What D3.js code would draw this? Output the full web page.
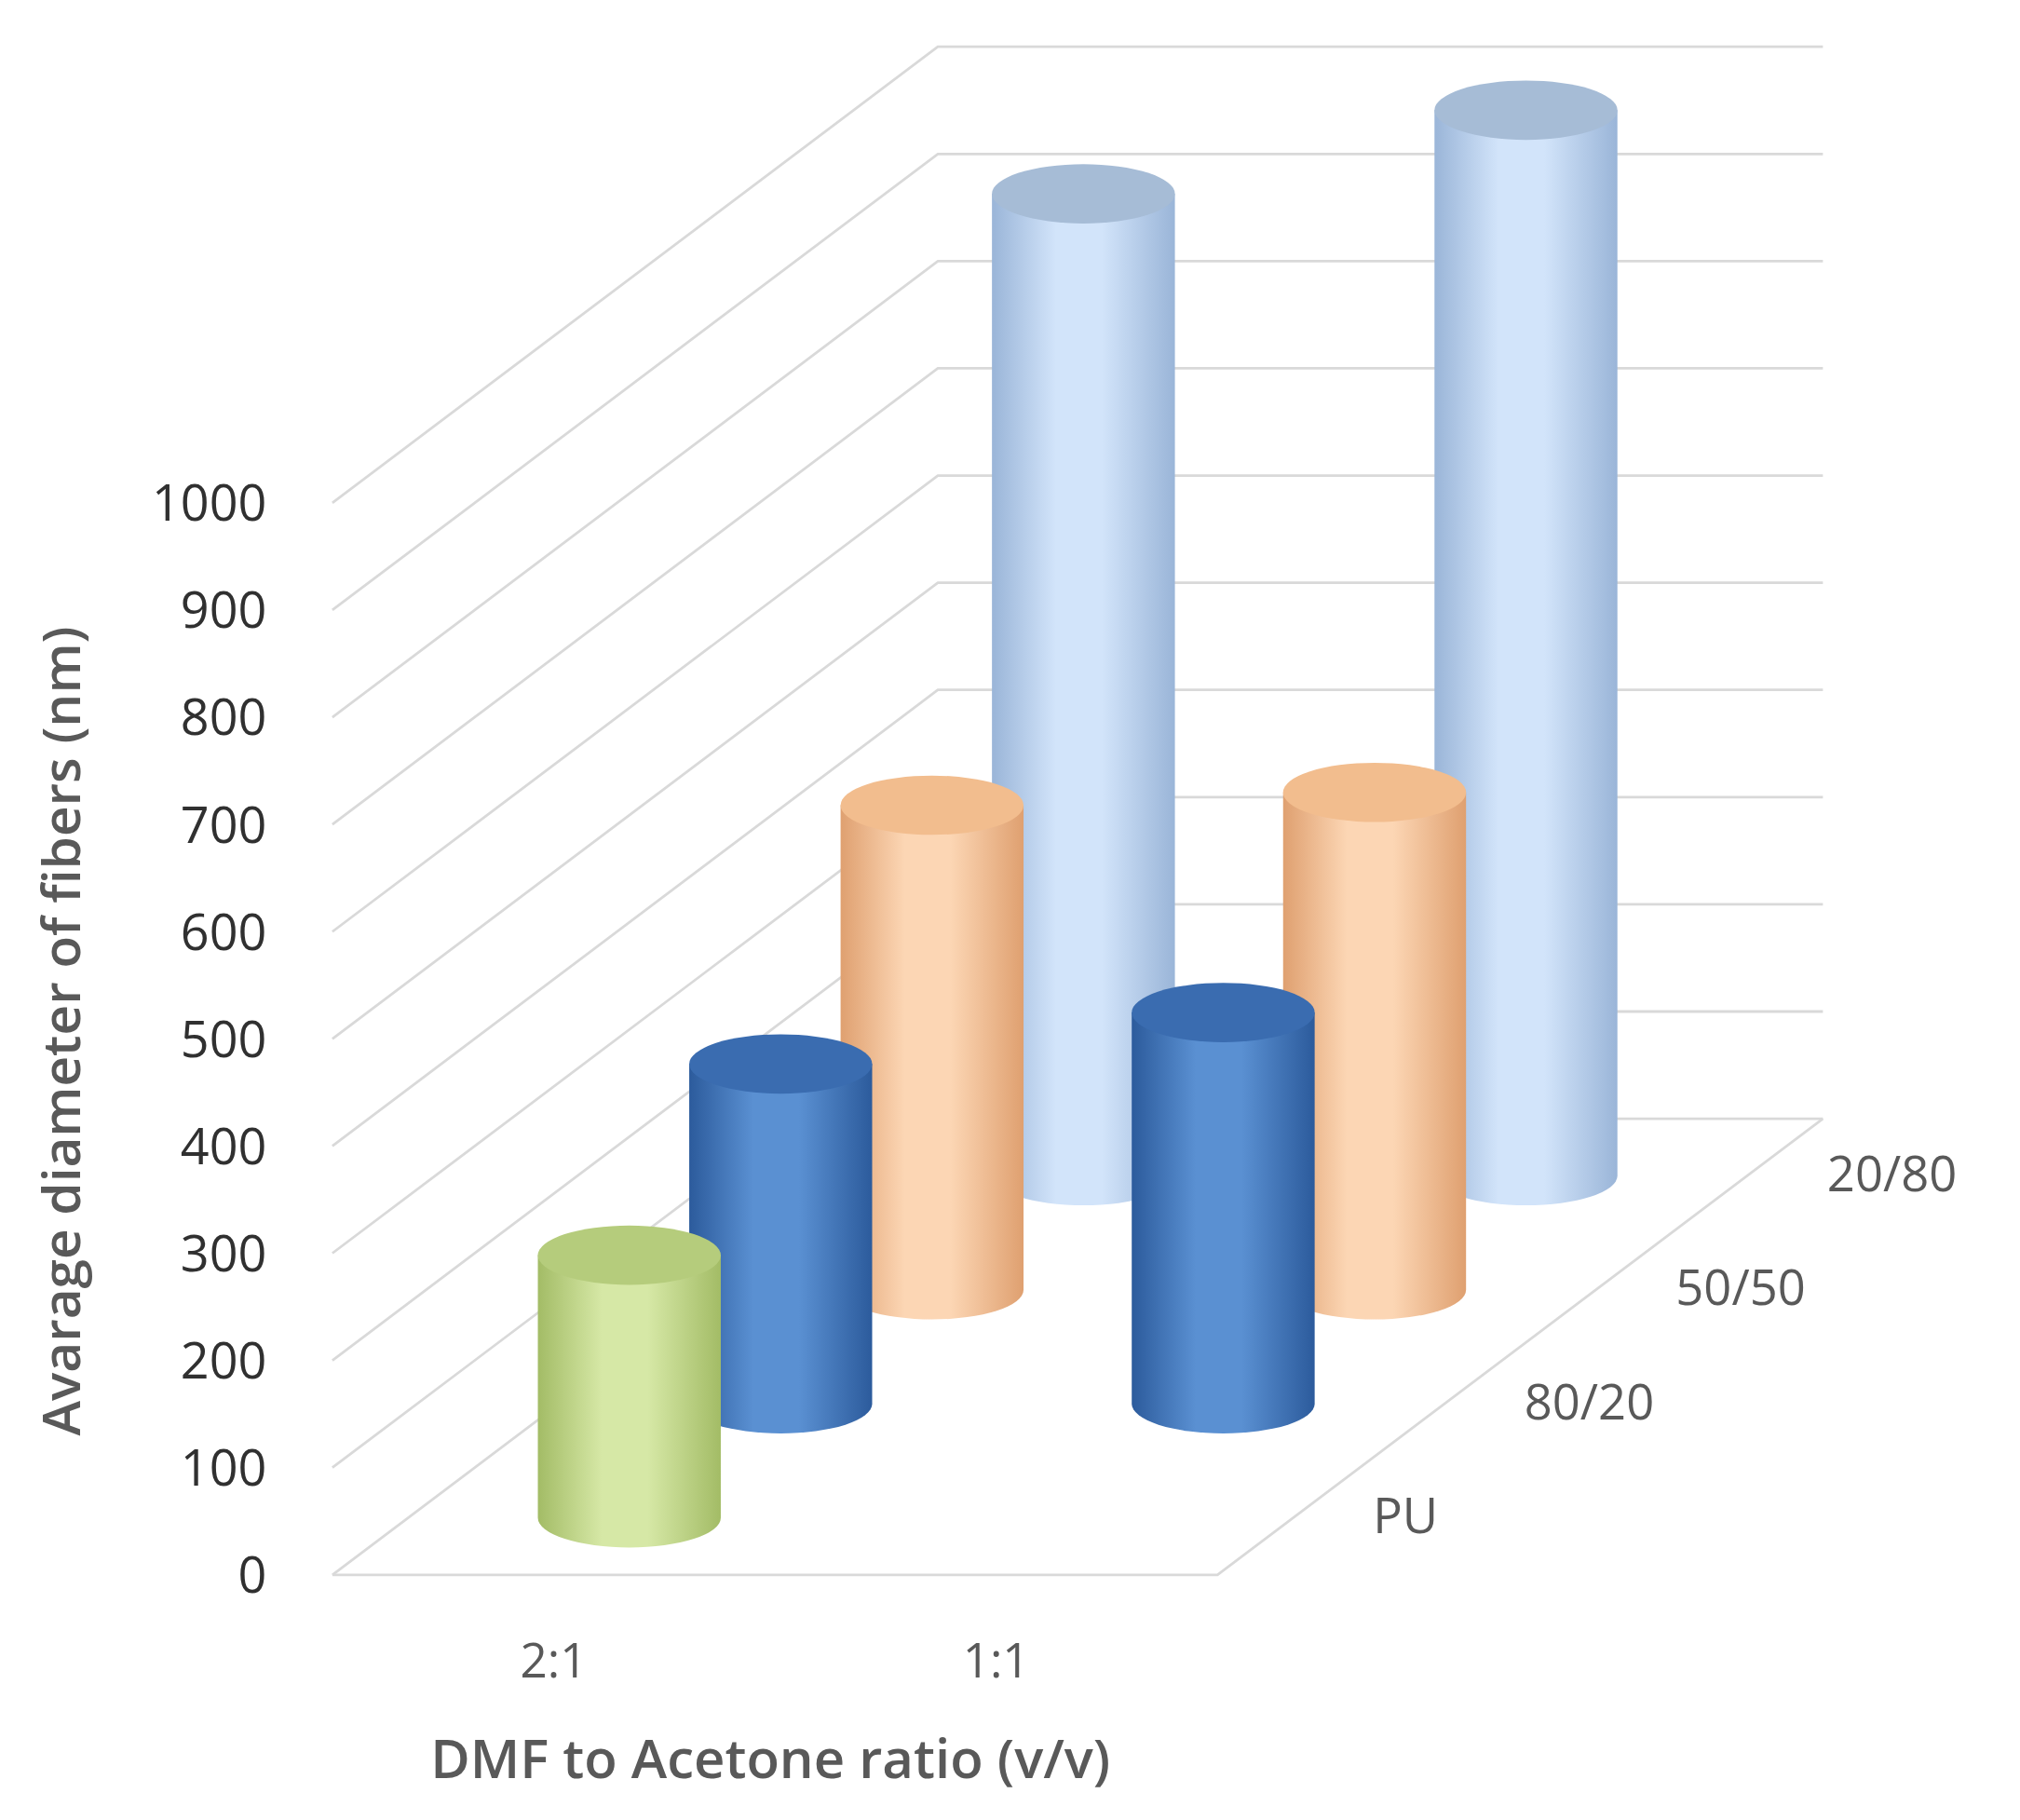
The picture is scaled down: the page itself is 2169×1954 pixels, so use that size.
<!DOCTYPE html>
<html><head><meta charset="utf-8">
<script src="https://cdn.jsdelivr.net/npm/d3@7"></script>
<style>body{margin:0;background:#fff}</style>
</head><body>
<svg id="chart" width="2169" height="1954" viewBox="0 0 1568 1412"></svg>
<script>
var categories = ['2:1', '1:1'];
var series = ['PU', '80/20', '50/50', '20/80'];
var values = [
    [245, null],
    [317, 365],
    [452, 464],
    [916, 994]
];
var yTicks = [0, 100, 200, 300, 400, 500, 600, 700, 800, 900, 1000];

var colors = {
    'PU':    {edge: '#a3bc66', mid: '#d6e8a6', top: '#b5cc7c'},
    '80/20': {edge: '#2c5b9c', mid: '#5a90d2', top: '#3a6cb0'},
    '50/50': {edge: '#dfa070', mid: '#fcd6b4', top: '#f2bd8e'},
    '20/80': {edge: '#9ab5d8', mid: '#d2e4fa', top: '#a6bcd6'}
};

var svg = d3.select('#chart');
var x0 = 258, x1 = 945, baseY = 1222;
var depthDx = 470, depthDy = -354;

var x = d3.scaleBand().domain(categories).range([x0, x1]);
var depth = d3.scaleBand().domain(series).range([0, 1]);
var y = d3.scaleLinear().domain([0, 1000]).range([0, 832]);

function proj(px, v, f) {
    return [px + depthDx * f, baseY - y(v) + depthDy * f];
}

// walls / grid
var grid = svg.append('g').attr('stroke', '#d9d9d9').attr('stroke-width', 2).attr('fill', 'none');
yTicks.forEach(function(t) {
    var a = proj(x0, t, 0), b = proj(x0, t, 1), c = proj(x1, t, 1);
    grid.append('polyline').attr('points', [a, b, c].map(function(p) { return p.join(','); }).join(' '));
});
var fl = [proj(x0, 0, 0), proj(x1, 0, 0), proj(x1, 0, 1)];
grid.append('polyline').attr('points', fl.map(function(p) { return p.join(','); }).join(' '));

// gradients
var defs = svg.append('defs');
series.forEach(function(s, i) {
    var g = defs.append('linearGradient').attr('id', 'g' + i);
    g.append('stop').attr('offset', '0%').attr('stop-color', colors[s].edge);
    g.append('stop').attr('offset', '35%').attr('stop-color', colors[s].mid);
    g.append('stop').attr('offset', '60%').attr('stop-color', colors[s].mid);
    g.append('stop').attr('offset', '100%').attr('stop-color', colors[s].edge);
});

// bars, back row first
var rx = 71, ry = 23;
var bars = svg.append('g');
for (var i = series.length - 1; i >= 0; i--) {
    var s = series[i];
    var f = depth(series[i]) + depth.bandwidth() / 2;
    categories.forEach(function(c, j) {
        var v = values[i][j];
        if (v == null) return;
        var cx = x(c) + x.bandwidth() / 2;
        var b = proj(cx, 0, f), t = proj(cx, v, f);
        var path = 'M' + (b[0] - rx) + ',' + t[1] + ' L' + (b[0] - rx) + ',' + b[1] +
            ' A' + rx + ',' + ry + ' 0 0 0 ' + (b[0] + rx) + ',' + b[1] +
            ' L' + (b[0] + rx) + ',' + t[1] + ' Z';
        bars.append('path').attr('d', path).attr('fill', 'url(#g' + i + ')');
        bars.append('ellipse').attr('cx', t[0]).attr('cy', t[1]).attr('rx', rx).attr('ry', ry)
            .attr('fill', colors[s].top);
    });
}

// y tick labels
svg.append('g').selectAll('text').data(yTicks).enter().append('text')
    .attr('x', 207).attr('y', function(d) { return baseY - y(d) + 14; })
    .attr('text-anchor', 'end').attr('font-family', 'Open Sans, sans-serif')
    .attr('font-size', 39).attr('fill', '#303030').text(function(d) { return d; });

// category labels
svg.append('g').selectAll('text').data(categories).enter().append('text')
    .attr('x', function(d) { return x(d) + x.bandwidth() / 2; }).attr('y', 1302)
    .attr('text-anchor', 'middle').attr('font-family', 'Open Sans, sans-serif')
    .attr('font-size', 37).attr('fill', '#595959').text(function(d) { return d; });

// series labels along depth axis
svg.append('g').selectAll('text').data(series).enter().append('text')
    .attr('x', function(d) { var f = depth(d) + depth.bandwidth() / 2; return x1 + depthDx * f + 62; })
    .attr('y', function(d) { var f = depth(d) + depth.bandwidth() / 2; return baseY + depthDy * f + 12; })
    .attr('font-family', 'Open Sans, sans-serif')
    .attr('font-size', 38).attr('fill', '#595959').text(function(d) { return d; });

// axis titles
svg.append('text').attr('x', 598).attr('y', 1380).attr('text-anchor', 'middle')
    .attr('font-family', 'Open Sans, sans-serif').attr('font-weight', 600)
    .attr('font-size', 42).attr('fill', '#595959').text('DMF to Acetone ratio (v/v)');
svg.append('text').attr('transform', 'translate(62,800) rotate(-90)').attr('text-anchor', 'middle')
    .attr('font-family', 'Open Sans, sans-serif').attr('font-weight', 600)
    .attr('font-size', 41).attr('fill', '#595959').text('Avarage diameter of fibers (nm)');
</script>
</body></html>
